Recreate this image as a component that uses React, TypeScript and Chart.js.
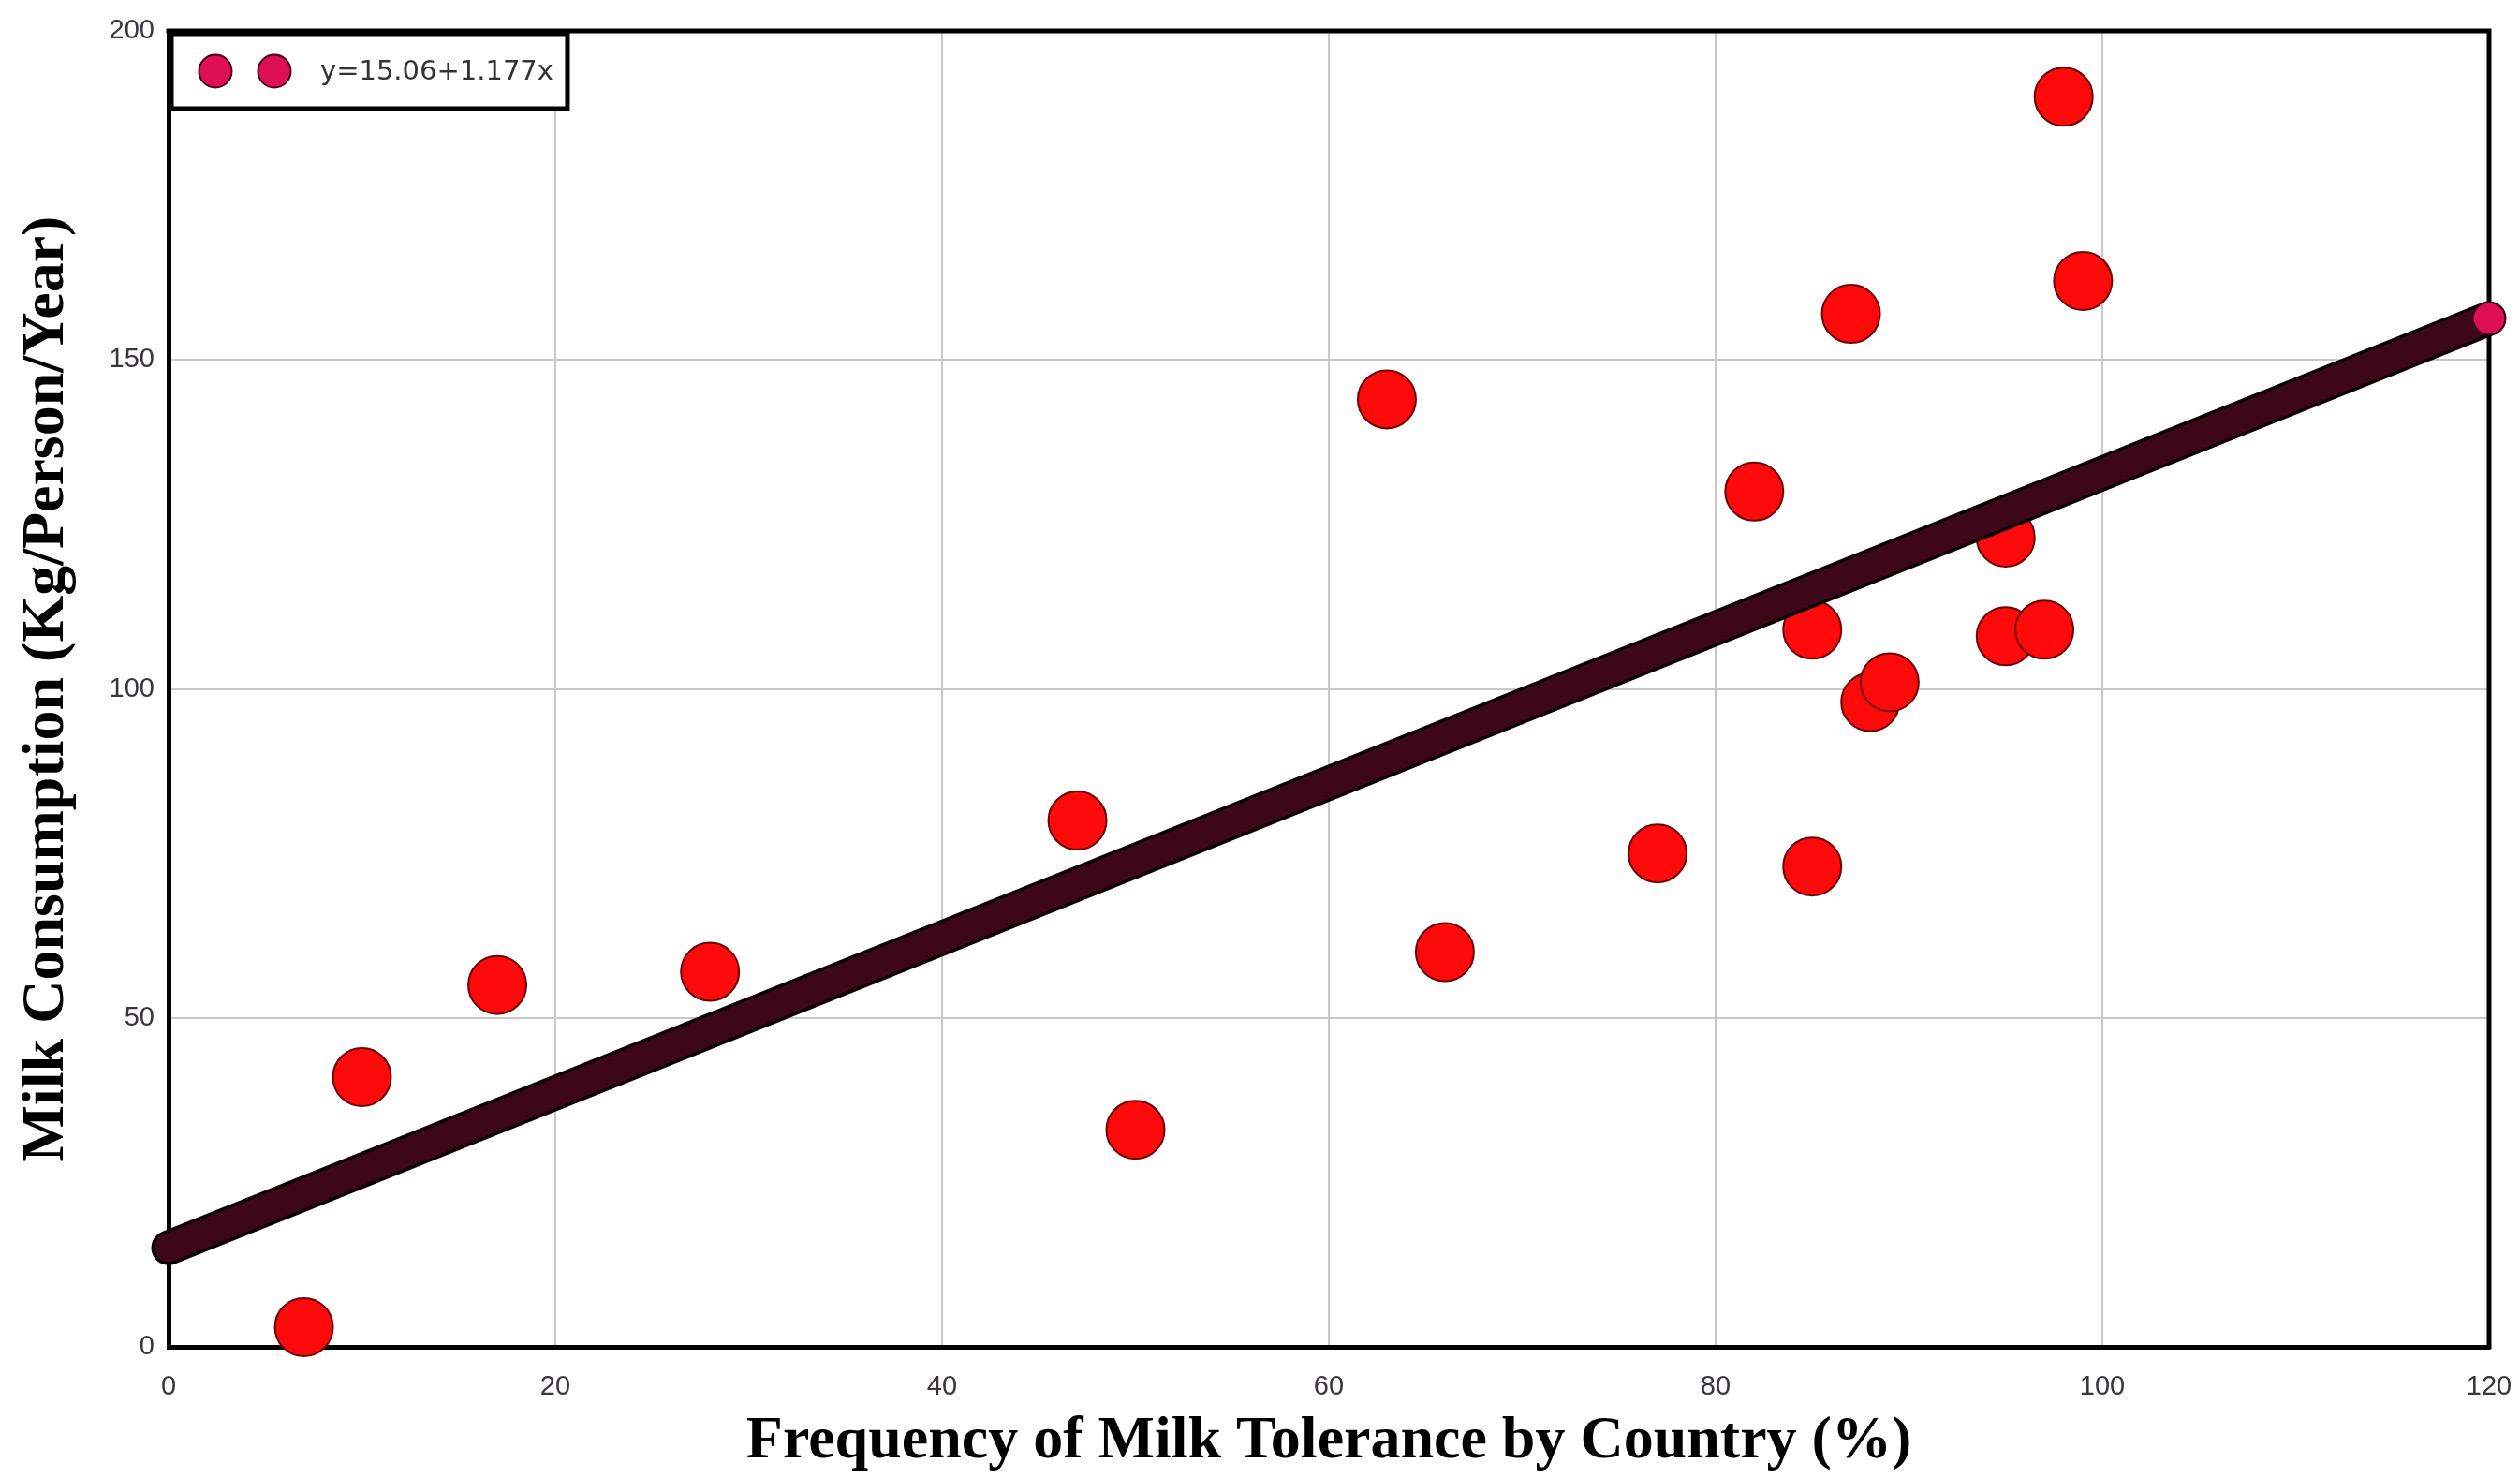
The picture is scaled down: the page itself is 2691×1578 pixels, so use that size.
import React, { useEffect, useRef } from 'react';
import { Chart, registerables } from 'chart.js';

Chart.register(...registerables);

// ---- data ----
const TOLERANCE_PCT = [7, 10, 17, 28, 47, 50, 63, 66, 77, 82, 85, 85, 87, 88, 89, 95, 95, 97, 98, 99];
const MILK_KG = [3, 41, 55, 57, 80, 33, 144, 60, 75, 130, 109, 73, 157, 98, 101, 123, 108, 109, 190, 162];
const TREND_X = [0, 120];
const TREND_Y = [15.06, 156.3];
const TREND_LABEL = 'y=15.06+1.177x';
const X_TICKS = [0, 20, 40, 60, 80, 100, 120];
const Y_TICKS = [0, 50, 100, 150, 200];
const X_TITLE = 'Frequency of Milk Tolerance by Country (%)';
const Y_TITLE = 'Milk Consumption (Kg/Person/Year)';

const CRIMSON = '#de0f55';
const CRIMSON_EDGE = '#4a0018';
const TITLE_FONT = "'Liberation Serif', 'Times New Roman', serif";
const TICK_FONT = "'Liberation Sans', Arial, sans-serif";

const framePlugin = {
  id: 'frameTopRight',
  beforeDatasetsDraw(chart: any) {
    const { ctx, chartArea: ca } = chart;
    ctx.save();
    ctx.strokeStyle = '#000';
    ctx.lineWidth = 5;
    ctx.beginPath();
    ctx.moveTo(ca.left - 2.5, ca.top);
    ctx.lineTo(ca.right, ca.top);
    ctx.lineTo(ca.right, ca.bottom + 2.5);
    ctx.stroke();
    ctx.restore();
  },
};

const legendBoxPlugin = {
  id: 'legendBox',
  afterDatasetsDraw(chart: any) {
    const { ctx, chartArea: ca } = chart;
    ctx.save();
    ctx.font = "29px 'DejaVu Sans', sans-serif";
    const tw = ctx.measureText(TREND_LABEL).width;
    const x0 = ca.left + 3;
    const y0 = ca.top + 3;
    const h = 80;
    const cx1 = x0 + 47;
    const cx2 = cx1 + 63;
    const tx = cx2 + 49;
    const w = tx + tw + 15 - x0;
    ctx.fillStyle = '#ffffff';
    ctx.fillRect(x0, y0, w, h);
    ctx.lineWidth = 5;
    ctx.strokeStyle = '#000';
    ctx.strokeRect(x0, y0, w, h);
    const cy = y0 + h / 2;
    [cx1, cx2].forEach((cx) => {
      ctx.beginPath();
      ctx.arc(cx, cy, 17.5, 0, Math.PI * 2);
      ctx.fillStyle = CRIMSON;
      ctx.fill();
      ctx.lineWidth = 2;
      ctx.strokeStyle = CRIMSON_EDGE;
      ctx.stroke();
    });
    ctx.fillStyle = '#333';
    ctx.textBaseline = 'middle';
    ctx.textAlign = 'left';
    ctx.fillText(TREND_LABEL, tx, cy + 1);
    ctx.restore();
  },
};

export default function App() {
  const canvasRef = useRef<HTMLCanvasElement | null>(null);

  useEffect(() => {
    if (!canvasRef.current) return;
    const points = TOLERANCE_PCT.map((x, i) => ({ x, y: MILK_KG[i] }));
    const trend = TREND_X.map((x, i) => ({ x, y: TREND_Y[i] }));

    const chart = new Chart(canvasRef.current, {
      type: 'scatter',
      data: {
        datasets: [
          {
            type: 'line',
            label: TREND_LABEL,
            data: trend,
            order: 0,
            borderColor: '#3e0717',
            borderWidth: 30,
            borderCapStyle: 'round',
            pointRadius: [0, 17],
            pointBackgroundColor: CRIMSON,
            pointBorderColor: CRIMSON_EDGE,
            pointBorderWidth: 1.5,
            showLine: true,
            fill: false,
            clip: false,
          } as any,
          {
            type: 'line',
            label: '',
            data: trend,
            order: 1,
            borderColor: '#0a0004',
            borderWidth: 37,
            borderCapStyle: 'round',
            pointRadius: 0,
            showLine: true,
            fill: false,
            clip: false,
          } as any,
          {
            label: 'Countries',
            data: points,
            order: 2,
            backgroundColor: '#ff0a0a',
            borderColor: '#6a0505',
            borderWidth: 2,
            pointRadius: 31,
            clip: false,
          } as any,
        ],
      },
      options: {
        animation: false,
        responsive: true,
        maintainAspectRatio: false,
        devicePixelRatio: 1,
        events: [],
        layout: { padding: { top: 24, right: 33, left: 0, bottom: 0 } },
        plugins: {
          legend: { display: false },
          tooltip: { enabled: false },
        },
        scales: {
          x: {
            type: 'linear',
            min: 0,
            max: 120,
            afterFit: (s: any) => {
              s.height = 140;
              s.paddingLeft = 0;
              s.paddingRight = 0;
            },
            afterBuildTicks: (s: any) => {
              s.ticks = X_TICKS.map((v) => ({ value: v }));
            },
            grid: { color: '#c8c8c8', lineWidth: 2, drawTicks: false },
            border: { color: '#000', width: 5 },
            ticks: {
              padding: 26,
              color: '#3a3340',
              font: { family: TICK_FONT, size: 29 },
              maxRotation: 0,
            },
            title: {
              display: true,
              text: X_TITLE,
              color: '#000',
              font: { family: TITLE_FONT, size: 64, weight: 'bold' },
              padding: { top: 2, bottom: 0 },
            },
          },
          y: {
            type: 'linear',
            min: 0,
            max: 200,
            afterFit: (s: any) => {
              s.width = 180;
              s.paddingTop = 0;
              s.paddingBottom = 0;
            },
            afterBuildTicks: (s: any) => {
              s.ticks = Y_TICKS.map((v) => ({ value: v }));
            },
            grid: { color: '#c8c8c8', lineWidth: 2, drawTicks: false },
            border: { color: '#000', width: 5 },
            ticks: {
              padding: 15,
              color: '#3a3340',
              font: { family: TICK_FONT, size: 29 },
            },
            title: {
              display: true,
              text: Y_TITLE,
              color: '#000',
              font: { family: TITLE_FONT, size: 64, weight: 'bold' },
              padding: { top: 12, bottom: 0 },
            },
          },
        },
      } as any,
      plugins: [framePlugin, legendBoxPlugin],
    });
    return () => chart.destroy();
  }, []);

  return (
    <div style={{ position: 'fixed', left: 0, top: 0, width: '2691px', height: '1578px', background: '#fff' }}>
      <canvas ref={canvasRef} />
    </div>
  );
}
